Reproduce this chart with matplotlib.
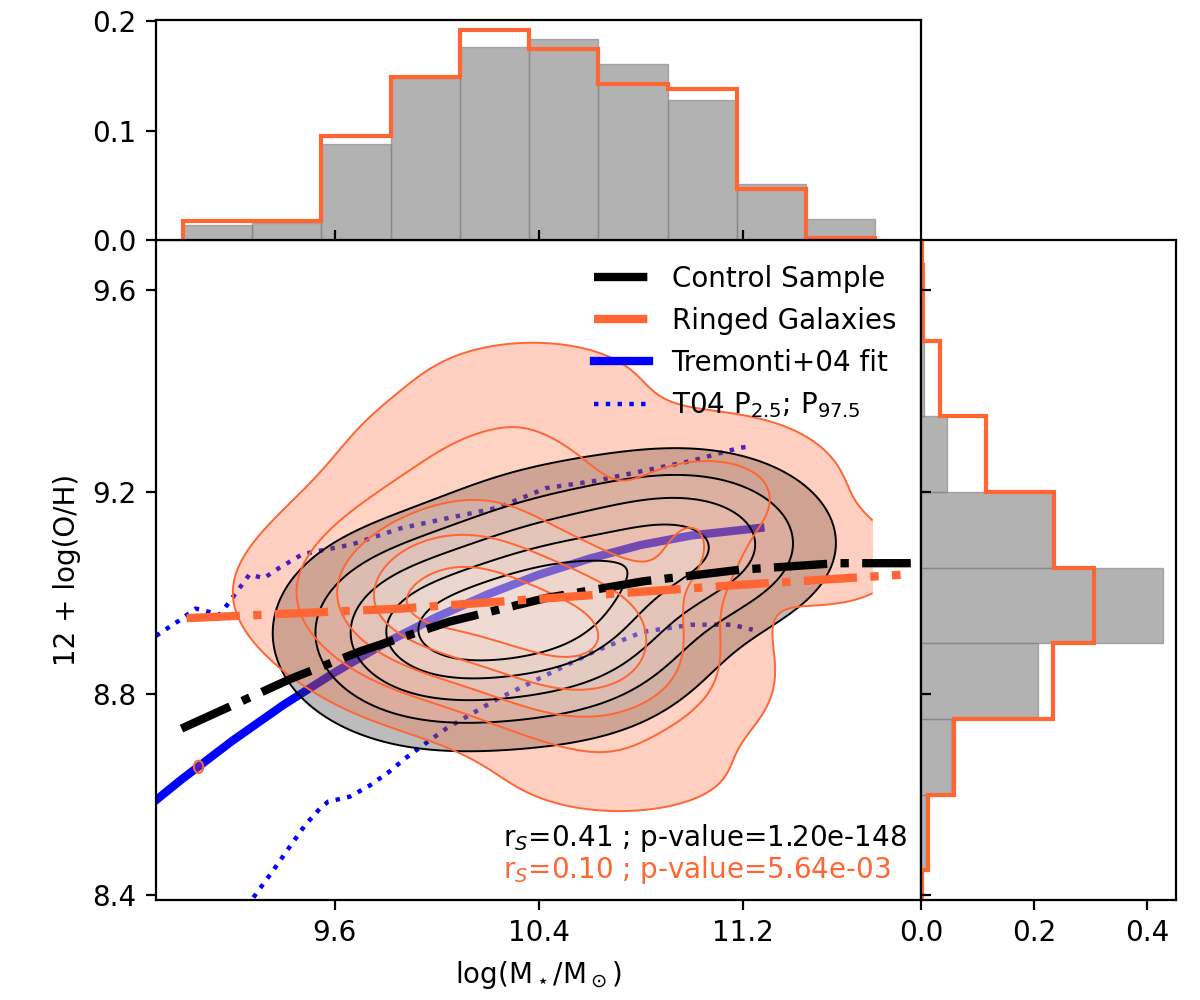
import numpy as np
import matplotlib
matplotlib.use("Agg")
import matplotlib.pyplot as plt
from matplotlib.colors import to_rgb

# ---------------- data ----------------
ORANGE = "#FF6633"

# stellar-mass histogram (fractions per bin)
mass_edges = [9.005, 9.277, 9.548, 9.82, 10.091, 10.363, 10.634, 10.906, 11.177, 11.449, 11.72]
mass_ctrl = [0.0138, 0.0153, 0.0875, 0.148, 0.1765, 0.184, 0.161, 0.128, 0.0514, 0.019]
mass_ring = [0.0174, 0.0174, 0.095, 0.1495, 0.1917, 0.175, 0.1428, 0.138, 0.047, 0.0018]

# metallicity histogram (fractions per bin)
oh_edges = [8.30, 8.45, 8.60, 8.75, 8.90, 9.05, 9.20, 9.35, 9.50, 9.65, 9.80]
oh_ctrl = [0.002, 0.008, 0.053, 0.208, 0.429, 0.232, 0.046, 0.006, 0.001, 0.0]
oh_ring = [0.002, 0.013, 0.059, 0.233, 0.307, 0.236, 0.115, 0.034, 0.003, 0.001]

# density model of the control sample (gaussian components)
ctrl_mx = [10.0, 10.5, 11.0]
ctrl_my = [8.92, 8.98, 9.1]
ctrl_sx = [0.30, 0.30, 0.28]
ctrl_sy = [0.105, 0.12, 0.09]
ctrl_w = [0.9, 1.0, 0.7]
ctrl_levels = [0.07, 0.2, 0.38, 0.6, 0.78]

# density model of the ringed galaxies (gaussian components)
ring_mx = [10.05, 10.60, 10.30, 11.15, 11.55, 10.75, 11.0, 9.97, 10.40, 9.85, 11.10, 9.067]
ring_my = [9.0, 8.9, 9.27, 9.2, 9.06, 8.63, 9.08, 8.975, 9.43, 9.0, 8.80, 8.655]
ring_sx = [0.32, 0.30, 0.38, 0.28, 0.2, 0.3, 0.12, 0.1, 0.25, 0.45, 0.25, 0.012]
ring_sy = [0.12, 0.12, 0.11, 0.09, 0.06, 0.055, 0.07, 0.03, 0.05, 0.10, 0.09, 0.008]
ring_w = [1.0, 1.0, 0.28, 0.3, 0.18, 0.12, 0.3, 0.15, 0.12, 0.15, 0.06, 0.27]
ring_levels = [0.06, 0.2, 0.38, 0.6, 0.84]

# fitted relations
ctrl_fit_x = [9.0, 9.43, 9.7, 10.05, 10.43, 10.81, 11.19, 11.57, 11.86]
ctrl_fit_y = [8.731, 8.83, 8.884, 8.943, 8.99, 9.023, 9.046, 9.059, 9.059]
ring_fit_x = [9.02, 9.86, 10.62, 11.19, 11.82]
ring_fit_y = [8.95, 8.969, 8.996, 9.016, 9.036]

t04_x = [8.9, 9.0, 9.2, 9.4, 9.6, 9.8, 10.0, 10.2, 10.4, 10.6, 10.8, 11.0, 11.27]
t04_y = [8.589, 8.630, 8.707, 8.778, 8.842, 8.901, 8.952, 8.997, 9.036, 9.068, 9.095, 9.114, 9.129]

p975_x = [8.9, 8.99, 9.056, 9.15, 9.189, 9.267, 9.322, 9.381, 9.475, 9.667, 9.858,
          10.05, 10.24, 10.43, 10.62, 10.81, 11.0, 11.19, 11.24]
p975_y = [8.915, 8.945, 8.969, 8.957, 8.983, 9.037, 9.029, 9.049, 9.077, 9.096, 9.128,
          9.149, 9.169, 9.208, 9.222, 9.242, 9.262, 9.288, 9.291]
p025_x = [9.282, 9.36, 9.432, 9.484, 9.542, 9.575, 9.66, 9.738, 9.816, 9.875, 9.947,
          10.038, 10.13, 10.24, 10.43, 10.62, 10.81, 11.0, 11.16, 11.24]
p025_y = [8.396, 8.45, 8.502, 8.539, 8.572, 8.586, 8.596, 8.618, 8.646, 8.671, 8.698,
          8.731, 8.758, 8.79, 8.837, 8.884, 8.923, 8.937, 8.937, 8.927]

stats_ctrl = r"r$_S$=0.41 ; p-value=1.20e-148"
stats_ring = r"r$_S$=0.10 ; p-value=5.64e-03"


def mixture(X, Y, mx, my, sx, sy, w):
    Z = np.zeros_like(X)
    for a, b, c, d, e in zip(mx, my, sx, sy, w):
        Z += e * np.exp(-0.5 * (((X - a) / c) ** 2 + ((Y - b) / d) ** 2))
    return Z / Z.max()


def lighten(color, t):
    r = np.array(to_rgb(color))
    return tuple(r + (1 - r) * t)


# ---------------- figure ----------------
fig = plt.figure(figsize=(6, 5), dpi=200)
gs = fig.add_gridspec(2, 2, width_ratios=(3, 1), height_ratios=(1, 3),
                      left=0.13, right=0.98, bottom=0.10, top=0.98,
                      wspace=0, hspace=0)
ax = fig.add_subplot(gs[1, 0])
axx = fig.add_subplot(gs[0, 0], sharex=ax)
axy = fig.add_subplot(gs[1, 1], sharey=ax)

# Tremonti relation and percentiles (under the density fills)
h_t04, = ax.plot(t04_x, t04_y, color="blue", lw=3, zorder=1, label="Tremonti+04 fit")
h_p, = ax.plot(p975_x, p975_y, color="blue", lw=1.6, ls=":", zorder=1,
               label=r"T04 P$_{2.5}$; P$_{97.5}$")
ax.plot(p025_x, p025_y, color="blue", lw=1.6, ls=":", zorder=1)

# density grid (limited to the data range)
gx = np.linspace(9.0, 11.71, 700)
gy = np.linspace(8.3, 9.8, 600)
X, Y = np.meshgrid(gx, gy)
Zc = mixture(X, Y, ctrl_mx, ctrl_my, ctrl_sx, ctrl_sy, ctrl_w)
Zr = mixture(X, Y, ring_mx, ring_my, ring_sx, ring_sy, ring_w)

ctrl_cols = [(g / 255.0,) * 3 for g in (61, 110, 145, 172, 192)]
ring_cols = [lighten(ORANGE, t) for t in (0.0, 0.05, 0.3, 0.45, 0.56)]

ax.contourf(X, Y, Zc, levels=ctrl_levels + [1.0001], colors=ctrl_cols, alpha=0.34, zorder=2)
ax.contourf(X, Y, Zr, levels=ring_levels + [1.0001], colors=ring_cols, alpha=0.3, zorder=3)
ax.contour(X, Y, Zc, levels=ctrl_levels, colors="black", linewidths=0.7, zorder=4)
ax.contour(X, Y, Zr, levels=ring_levels, colors=ORANGE, linewidths=0.7, zorder=4)

h_c, = ax.plot(ctrl_fit_x, ctrl_fit_y, color="black", lw=3, ls="-.", zorder=6,
               label="Control Sample")
h_r, = ax.plot(ring_fit_x, ring_fit_y, color=ORANGE, lw=3, ls="-.", zorder=6,
               label="Ringed Galaxies")

ax.legend(handles=[h_c, h_r, h_t04, h_p], loc="upper right", frameon=False, fontsize=10)

ax.text(0.453, 0.082, stats_ctrl, transform=ax.transAxes, color="black",
        fontsize=10, va="baseline", ha="left")
ax.text(0.453, 0.033, stats_ring, transform=ax.transAxes, color=ORANGE,
        fontsize=10, va="baseline", ha="left")

ax.set_xticks([9.6, 10.4, 11.2])
ax.set_yticks([8.4, 8.8, 9.2, 9.6])
ax.set_xlabel(r"log(M$_\star$/M$_\odot$)")
ax.set_ylabel("12 + log(O/H)")

# top histogram
me = np.array(mass_edges)
axx.bar(me[:-1], mass_ctrl, width=np.diff(me), align="edge", color="gray",
        alpha=0.6, edgecolor="gray", linewidth=0.5)
axx.stairs(mass_ring, me, color=ORANGE, lw=1.5, baseline=0)
axx.set_ylim(0, 0.2013)
axx.set_yticks([0.0, 0.1, 0.2])
axx.tick_params(axis="x", direction="in", labelbottom=False)

# right histogram
oe = np.array(oh_edges)
axy.barh(oe[:-1], oh_ctrl, height=np.diff(oe), align="edge", color="gray",
         alpha=0.6, edgecolor="gray", linewidth=0.5)
axy.stairs(oh_ring, oe, color=ORANGE, lw=1.5, baseline=0, orientation="horizontal")
axy.set_xlim(0, 0.4515)
axy.set_xticks([0.0, 0.2, 0.4])
axy.tick_params(axis="y", direction="in", labelleft=False)

ax.set_xlim(8.9, 11.9)
ax.set_ylim(8.391, 9.70)

fig.savefig("out.png", dpi=200)
